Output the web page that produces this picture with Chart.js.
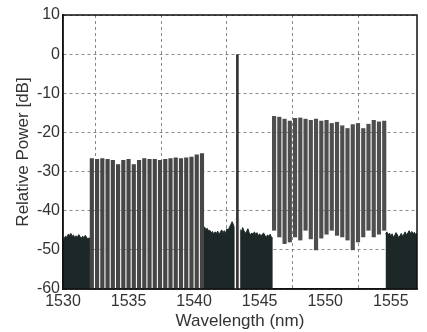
<!DOCTYPE html>
<html>
<head>
<meta charset="utf-8">
<script src="https://cdn.jsdelivr.net/npm/chart.js@4/dist/chart.umd.min.js"></script>
<style>
  html, body { margin: 0; padding: 0; background: #fff; }
  #wrap { width: 427px; height: 332px; }
</style>
</head>
<body>
<div id="wrap"><canvas id="grafico" width="427" height="332"></canvas></div>
<script>
// comb channels (nm) and their levels (dB)
const leftComb = [1532.2, 1532.6, 1533.0, 1533.4, 1533.8, 1534.2, 1534.6, 1535.0, 1535.4, 1535.8, 1536.2,
                  1536.6, 1537.0, 1537.4, 1537.8, 1538.2, 1538.6, 1539.0, 1539.4, 1539.8, 1540.2, 1540.6];
const leftPeaks = [-26.7, -26.9, -26.7, -26.9, -27.1, -28.2, -27.1, -26.9, -28.2, -27.1, -26.7,
                   -26.9, -26.9, -27.1, -26.9, -26.7, -26.5, -26.7, -26.5, -26.3, -25.7, -25.4];

const rightComb = [1546.1, 1546.5, 1546.9, 1547.3, 1547.7, 1548.1, 1548.5, 1548.9, 1549.3, 1549.7, 1550.1,
                   1550.5, 1550.9, 1551.3, 1551.7, 1552.1, 1552.5, 1552.9, 1553.3, 1553.7, 1554.1, 1554.5];
const rightPeaks = [-15.9, -16.1, -16.6, -17.1, -16.4, -16.3, -16.6, -16.9, -16.6, -17.1, -16.9,
                    -17.7, -17.4, -18.3, -19.0, -18.0, -17.7, -19.0, -17.9, -16.9, -17.3, -17.1];
const rightTroughs = [-45.0, -46.7, -48.4, -48.0, -46.7, -47.5, -45.0, -47.2, -50.0, -47.0, -46.0,
                      -45.0, -46.3, -46.7, -47.5, -50.0, -48.0, -46.7, -45.0, -46.7, -46.0, -45.0];

const pumpAt = 1543.3;
const pumpLevel = 0;

// noise floor, sampled every 0.1 nm
const noiseLeftStart = 1530.0;
const noiseLeft = [-47.5, -47.0, -46.5, -46.8, -46.0, -46.3, -45.8, -46.5, -46.2, -47.0, -46.4,
                   -46.8, -46.1, -46.6, -47.0, -46.5, -46.9, -46.3, -46.8, -47.2, -46.9, -47.5];
const noiseMidStart = 1540.7;
const noiseMid = [-44.0, -44.2, -44.8, -44.5, -45.2, -45.0, -45.6, -45.3, -46.0, -45.4,
                  -45.8, -45.2, -46.1, -45.5, -44.9, -45.6, -45.1, -45.8, -44.6, -45.0,
                  -44.2, -43.5, -42.8, -43.6, -44.5, -45.0, -44.4, -45.2, -44.8, -45.5,
                  -44.3, -45.1, -45.8, -45.3, -44.6, -45.6, -46.2, -45.7, -46.0, -45.4,
                  -46.1, -45.6, -46.4, -45.9, -46.6, -46.0, -45.7, -46.3, -46.8, -46.2,
                  -46.5, -46.0, -46.8, -47.0];
const noiseRightStart = 1554.6;
const noiseRight = [-46.0, -45.4, -46.2, -45.7, -46.5, -45.9, -46.8, -46.3, -45.6, -46.1, -46.9,
                    -46.4, -45.8, -46.5, -46.0, -45.4, -46.2, -45.7, -45.1, -45.8, -45.3, -45.9,
                    -45.5, -46.1, -45.7];

const xTicks = [1530, 1535, 1540, 1545, 1550, 1555];
const yTicks = [-60, -50, -40, -30, -20, -10, 0, 10];

function floor(start, vals) {
    return vals.map((v, i) => ({x: +(start + i * 0.1).toFixed(2), y: v}));
}

const noiseStyle = {
    type: "line", fill: "start", backgroundColor: "#1d2727", borderColor: "#1d2727",
    borderWidth: 1, pointRadius: 0, order: 3
};

const frame = {
    id: "frame",
    afterDraw(chart) {
        const a = chart.chartArea, c = chart.ctx;
        c.save();
        c.strokeStyle = "#111";
        c.lineWidth = 1.5;
        c.strokeRect(a.left, a.top, a.right - a.left, a.bottom - a.top);
        c.restore();
    }
};

const font = {family: "'Liberation Sans', Arial, sans-serif", size: 16};

new Chart("grafico", {
    type: "bar",
    data: {
        datasets: [
            Object.assign({data: floor(noiseLeftStart, noiseLeft)}, noiseStyle),
            Object.assign({data: floor(noiseMidStart, noiseMid)}, noiseStyle),
            Object.assign({data: floor(noiseRightStart, noiseRight)}, noiseStyle),
            {
                data: [{x: pumpAt, y: [-60, -42]}],
                backgroundColor: "#f4f4f4", barThickness: 5, grouped: false, order: 2
            },
            {
                data: [{x: pumpAt, y: [-60, pumpLevel]}],
                backgroundColor: "#333", barThickness: 2, grouped: false, order: 1
            },
            {
                data: leftComb.map((w, i) => ({x: w, y: [-60, leftPeaks[i]]})),
                backgroundColor: "#464646", barThickness: 3.5, grouped: false, order: 1
            },
            {
                data: rightComb.map((w, i) => ({x: w, y: [rightTroughs[i], rightPeaks[i]]})),
                backgroundColor: "#4e4e4e", barThickness: 3.5, grouped: false, order: 1
            }
        ]
    },
    options: {
        responsive: false,
        animation: false,
        layout: {padding: {top: 15, right: 10, left: 0, bottom: 0}},
        plugins: {legend: {display: false}, tooltip: {enabled: false}},
        scales: {
            x: {
                type: "linear", min: 1530, max: 1557, offset: false,
                afterFit(s) { s.height = 43; },
                ticks: {
                    stepSize: 5, includeBounds: false, padding: 3, color: "#333", font: font,
                    maxRotation: 0, autoSkip: false,
                    callback: v => xTicks.includes(v) ? String(v) : ""
                },
                grid: {color: "#8a8a8a", drawTicks: false},
                border: {display: true, color: "#111", width: 1.5, dash: [3, 3]},
                title: {display: true, text: "Wavelength (nm)", color: "#333",
                        font: {family: font.family, size: 17}, padding: {top: 0, bottom: 0}}
            },
            y: {
                min: -60, max: 10,
                afterFit(s) { s.width = 63; },
                ticks: {
                    stepSize: 10, padding: 3, color: "#333", font: font,
                    callback: v => yTicks.includes(v) ? String(v) : ""
                },
                grid: {color: "#8a8a8a", drawTicks: false},
                border: {display: true, color: "#111", width: 1.5, dash: [3, 3]},
                title: {display: true, text: "Relative Power [dB]", color: "#333",
                        font: {family: font.family, size: 17}, padding: {top: 13, bottom: 0}}
            }
        }
    },
    plugins: [frame]
});
</script>
</body>
</html>
